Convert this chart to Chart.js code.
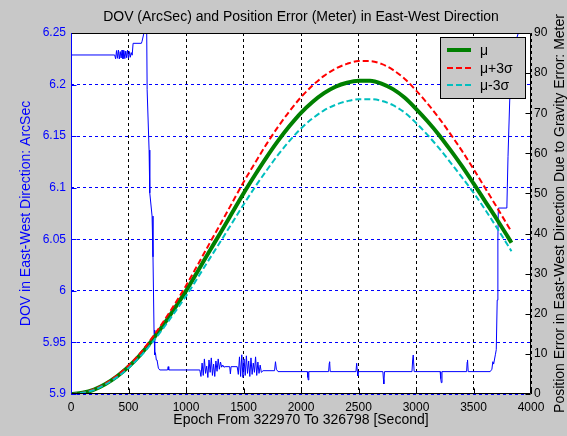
<!DOCTYPE html>
<html>
<head>
<meta charset="utf-8">
<script src="https://cdn.jsdelivr.net/npm/chart.js@4.4.1/dist/chart.umd.min.js"></script>
<style>
  html, body { margin: 0; padding: 0; background: #c8c8c8; }
  #wrap { width: 567px; height: 436px; }
</style>
</head>
<body>
<div id="wrap"><canvas id="dovChart" width="567" height="436"></canvas></div>
<script>
// position error curves (right axis, meter), sampled every 100 s
const epochs = [0, 100, 200, 300, 400, 500, 600, 700, 800, 900, 1000, 1100, 1200, 1300, 1400, 1500, 1600, 1700, 1800, 1900,
  2000, 2100, 2200, 2300, 2400, 2500, 2600, 2700, 2800, 2900, 3000, 3100, 3200, 3300, 3400, 3500, 3600, 3700, 3800, 3830];
const muValues = [0.0, 0.3, 1.1, 2.5, 4.4, 6.8, 9.7, 13.2, 17.1, 21.3, 25.7, 30.5, 35.4, 40.2, 45.1, 50.0, 54.6, 59.0, 63.1, 66.8,
  70.1, 72.8, 75.0, 76.6, 77.6, 78.1, 78.1, 77.4, 76.0, 73.9, 71.1, 68.0, 64.6, 60.8, 56.8, 52.5, 48.1, 43.7, 39.1, 37.7];
const muPlus3Sigma = [0.0, 0.3, 1.2, 2.6, 4.6, 7.1, 10.1, 13.8, 17.9, 22.3, 27.0, 32.1, 37.3, 42.4, 47.6, 52.8, 57.6, 62.3, 66.6, 70.5,
  74.0, 76.9, 79.3, 81.1, 82.3, 83.0, 83.0, 82.3, 80.8, 78.6, 75.7, 72.4, 68.8, 64.8, 60.6, 56.1, 51.4, 46.7, 41.9, 40.5];
const muMinus3Sigma = [0.0, 0.3, 1.0, 2.4, 4.2, 6.5, 9.3, 12.6, 16.3, 20.3, 24.4, 28.9, 33.5, 38.0, 42.6, 47.2, 51.6, 55.7, 59.6, 63.1,
  66.2, 68.7, 70.7, 72.1, 73.0, 73.5, 73.5, 73.1, 72.0, 70.2, 67.6, 64.6, 61.3, 57.7, 54.0, 50.2, 46.0, 41.6, 37.0, 35.6];

// DOV (left axis, arcsec)
const dovEpochs = [0, 380, 388, 396, 404, 412, 420, 428, 436, 444, 452, 460, 468, 476, 484, 492, 500, 508, 516, 524, 532,
  540, 612, 618, 626, 632, 645, 650, 658, 662, 679, 685, 705, 713, 722, 728, 734, 742, 748, 760, 772, 840, 845, 850,
  1120, 1130, 1140, 1150, 1160, 1170, 1180, 1190, 1200, 1210, 1220, 1230, 1240, 1250, 1260, 1270, 1280, 1290, 1300, 1310, 1320, 1330,
  1340, 1380, 1386, 1392, 1445,
  1455, 1465, 1475, 1485, 1495, 1505, 1515, 1525, 1535, 1545, 1555, 1565, 1575, 1585, 1595, 1605, 1615, 1625, 1635, 1645, 1655,
  1670, 1770, 1778, 1786, 1800, 2055, 2060, 2063, 2068, 2240, 2246, 2249, 2254, 2478, 2484, 2490, 2494, 2500,
  2712, 2717, 2720, 2726, 2965, 2971, 2976, 2984, 3210, 3215, 3220, 3226, 3440, 3445, 3448, 3454,
  3645, 3660, 3668, 3675, 3690, 3698, 3706, 3712, 3716, 3790, 3800, 3815, 3825, 3850, 3870, 3890, 3910];
const dovValues = [6.2287, 6.2287, 6.2250, 6.2330, 6.2255, 6.2335, 6.2248, 6.2320, 6.2258, 6.2335, 6.2250, 6.2330, 6.2252, 6.2325, 6.2260, 6.2335, 6.2255, 6.2320, 6.2265, 6.2310, 6.2285,
  6.2400, 6.2400, 6.2420, 6.2420, 6.2490, 6.2500, 6.2560, 6.2560, 6.1950, 6.1365, 6.0950, 6.0725, 6.0330, 5.9620, 5.9380, 5.9400, 5.9330, 5.9330, 5.9250, 5.9233, 5.9233, 5.9265, 5.9233,
  5.9233, 5.9170, 5.9300, 5.9180, 5.9340, 5.9200, 5.9270, 5.9160, 5.9330, 5.9210, 5.9350, 5.9180, 5.9290, 5.9170, 5.9320, 5.9220, 5.9340, 5.9240, 5.9310, 5.9260, 5.9280, 5.9260,
  5.9265, 5.9265, 5.9195, 5.9265, 5.9265,
  5.9190, 5.9360, 5.9170, 5.9380, 5.9160, 5.9340, 5.9180, 5.9370, 5.9200, 5.9320, 5.9170, 5.9350, 5.9190, 5.9300, 5.9210, 5.9360, 5.9180, 5.9310, 5.9200, 5.9280, 5.9210,
  5.9226, 5.9226, 5.9313, 5.9240, 5.9217, 5.9217, 5.9160, 5.9136, 5.9217, 5.9217, 5.9300, 5.9313, 5.9217, 5.9217, 5.9298, 5.9220, 5.9175, 5.9217,
  5.9217, 5.9140, 5.9097, 5.9217, 5.9217, 5.9330, 5.9378, 5.9217, 5.9217, 5.9150, 5.9110, 5.9217, 5.9217, 5.9310, 5.9330, 5.9217,
  5.9217, 5.9240, 5.9313, 5.9290, 5.9380, 5.9430, 5.9910, 6.0500, 6.0803, 6.0803, 6.1300, 6.1850, 6.1970, 6.2200, 6.2430, 6.2500, 6.2560];

const xTicks = [0, 500, 1000, 1500, 2000, 2500, 3000, 3500, 4000];
const dovTicks = [5.9, 5.95, 6, 6.05, 6.1, 6.15, 6.2, 6.25];
const errorTicks = [0, 10, 20, 30, 40, 50, 60, 70, 80, 90];

const FONT = '"Liberation Sans", Arial, sans-serif';
const FIG_GRAY = '#c8c8c8';
const BLUE = '#0000ff';

function pairs(xs, ys) {
  return xs.map((x, i) => ({ x: x, y: ys[i] }));
}

function fixedTicks(values) {
  return scale => { scale.ticks = values.map(v => ({ value: v })); };
}

// MATLAB-like frame, title, right label and legend
const matlabFrame = {
  id: 'matlabFrame',
  beforeDraw(chart) {
    const { ctx, chartArea: a } = chart;
    ctx.save();
    ctx.fillStyle = FIG_GRAY;
    ctx.fillRect(0, 0, chart.width, chart.height);
    ctx.fillStyle = '#ffffff';
    ctx.fillRect(a.left, a.top, a.right - a.left, a.bottom - a.top);
    ctx.restore();
  },
  afterDraw(chart) {
    const { ctx, chartArea: a, scales } = chart;
    const L = Math.round(a.left) + 0.5, R = Math.round(a.right) - 0.5;
    const T = Math.round(a.top) + 0.5, B = Math.round(a.bottom) - 0.5;
    ctx.save();
    ctx.lineWidth = 1;

    // inward tick marks
    ctx.strokeStyle = '#000';
    ctx.beginPath();
    xTicks.forEach(v => {
      const px = Math.round(scales.x.getPixelForValue(v)) + 0.5;
      ctx.moveTo(px, B); ctx.lineTo(px, B - 5);
    });
    errorTicks.forEach(v => {
      const py = Math.round(scales.y1.getPixelForValue(v)) + 0.5;
      ctx.moveTo(R, py); ctx.lineTo(R - 5, py);
    });
    ctx.stroke();
    ctx.strokeStyle = BLUE;
    ctx.beginPath();
    dovTicks.forEach(v => {
      const py = Math.round(scales.y.getPixelForValue(v)) + 0.5;
      ctx.moveTo(L, py); ctx.lineTo(L + 5, py);
    });
    ctx.stroke();

    // box
    ctx.strokeStyle = '#000';
    ctx.beginPath();
    ctx.moveTo(L, T); ctx.lineTo(R, T); ctx.lineTo(R, B); ctx.lineTo(L, B);
    ctx.stroke();
    ctx.strokeStyle = BLUE;
    ctx.beginPath();
    ctx.moveTo(L, T); ctx.lineTo(L, B);
    ctx.stroke();

    // title
    ctx.fillStyle = '#000';
    ctx.font = '14px ' + FONT;
    ctx.textAlign = 'center';
    ctx.textBaseline = 'middle';
    ctx.fillText('DOV (ArcSec) and Position Error (Meter) in East-West Direction', (a.left + a.right) / 2, 17);

    // right axis label, reads bottom to top
    ctx.save();
    ctx.translate(560, (a.top + a.bottom) / 2);
    ctx.rotate(-Math.PI / 2);
    ctx.fillText('Position Error in East-West Direction Due to Gravity Error: Meter', 0, 0);
    ctx.restore();

    // legend
    const box = { x: 440.5, y: 37.5, w: 85, h: 61 };
    ctx.fillStyle = FIG_GRAY;
    ctx.fillRect(box.x, box.y, box.w, box.h);
    ctx.strokeStyle = '#000';
    ctx.strokeRect(box.x, box.y, box.w, box.h);
    const entries = ['μ', 'μ+3σ', 'μ-3σ'];
    const rowY = [50, 68, 85];
    entries.forEach((label, i) => {
      const ds = chart.data.datasets.find(d => d.label === label);
      ctx.strokeStyle = ds.borderColor;
      ctx.lineWidth = ds.borderWidth;
      ctx.setLineDash(ds.borderDash || []);
      ctx.beginPath();
      ctx.moveTo(447, rowY[i]);
      ctx.lineTo(471, rowY[i]);
      ctx.stroke();
      ctx.setLineDash([]);
      ctx.fillStyle = '#000';
      ctx.font = '14px ' + FONT;
      ctx.textAlign = 'left';
      ctx.fillText(label, 480, rowY[i] + 1);
    });
    ctx.restore();
  }
};

const curveStyle = { pointRadius: 0, cubicInterpolationMode: 'monotone', fill: false, yAxisID: 'y1' };

new Chart(document.getElementById('dovChart'), {
  type: 'line',
  data: {
    datasets: [
      Object.assign({ label: 'μ-3σ', data: pairs(epochs, muMinus3Sigma), borderColor: '#00bfbf', borderWidth: 2, borderDash: [6, 3], order: 0 }, curveStyle),
      Object.assign({ label: 'μ+3σ', data: pairs(epochs, muPlus3Sigma), borderColor: '#ff0000', borderWidth: 2, borderDash: [6, 3], order: 1 }, curveStyle),
      Object.assign({ label: 'μ', data: pairs(epochs, muValues), borderColor: '#008000', borderWidth: 4, order: 2 }, curveStyle),
      { label: 'DOV', data: pairs(dovEpochs, dovValues), yAxisID: 'y', borderColor: BLUE, borderWidth: 1,
        pointRadius: 0, tension: 0, fill: false, order: 3 }
    ]
  },
  options: {
    responsive: false,
    animation: false,
    devicePixelRatio: 1,
    events: [],
    layout: { padding: { top: 33, left: 0, right: 0, bottom: 0 } },
    plugins: { legend: { display: false }, tooltip: { enabled: false } },
    scales: {
      x: {
        type: 'linear', min: 0, max: 4000,
        afterBuildTicks: fixedTicks(xTicks),
        afterFit: s => { s.height = 42; },
        grid: { color: '#000', lineWidth: 1, drawTicks: false },
        border: { display: false, dash: [3, 3] },
        ticks: { color: '#000', font: { family: FONT, size: 12 }, padding: 6, maxRotation: 0, autoSkip: false,
          callback: v => String(v) },
        title: { display: true, text: 'Epoch From 322970 To 326798 [Second]', color: '#000',
          font: { family: FONT, size: 14 }, padding: { top: 0, bottom: 7 } }
      },
      y: {
        position: 'left', min: 5.9, max: 6.25,
        afterBuildTicks: fixedTicks(dovTicks),
        afterFit: s => { s.width = 71; },
        grid: { color: BLUE, lineWidth: 1, drawTicks: false },
        border: { display: false, dash: [3, 3] },
        ticks: { color: BLUE, font: { family: FONT, size: 12 }, padding: 5,
          callback: v => String(parseFloat(Number(v).toFixed(2))) },
        title: { display: true, text: 'DOV in East-West Direction: ArcSec', color: BLUE,
          font: { family: FONT, size: 14 }, padding: { top: 18, bottom: 0 } }
      },
      y1: {
        position: 'right', min: 0, max: 90,
        afterBuildTicks: fixedTicks(errorTicks),
        afterFit: s => { s.width = 36; },
        grid: { drawOnChartArea: false, drawTicks: false },
        border: { display: false },
        ticks: { color: '#000', font: { family: FONT, size: 12 }, padding: 3 }
      }
    }
  },
  plugins: [matlabFrame]
});
</script>
</body>
</html>
